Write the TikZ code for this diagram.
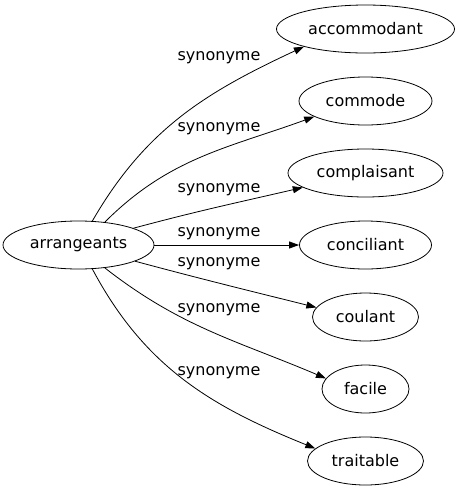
\documentclass[tikz,border=0pt]{standalone}
\usepackage{fontspec}
\setmainfont{DejaVu Sans}
\usetikzlibrary{shapes.geometric, positioning, arrows.meta}

\tikzset{
  word/.style={draw, ellipse, inner sep=0pt, minimum height=48pt,
    font=\fontsize{16}{19}\selectfont},
  syn/.style={font=\fontsize{16}{19}\selectfont}
}

\begin{document}
\begin{tikzpicture}[x=1pt,y=1pt,node distance=72pt,on grid,
  >={Triangle[length=10pt,width=7pt]}, line width=0.8pt]
\useasboundingbox (0,0) rectangle (457,-491);
\node[word,minimum width=151pt] (arr) at (78.5,-245) {arrangeants};
\node[word,minimum width=132pt] (con) [right=287pt of arr] {conciliant};
\node[word,minimum width=155pt] (cpl) [above=of con] {complaisant};
\node[word,minimum width=133pt] (com) [above=of cpl] {commode};
\node[word,minimum width=178pt] (acc) [above=of com] {accommodant};
\node[word,minimum width=106pt] (cou) [below=of con] {coulant};
\node[word,minimum width=87pt] (fac) [below=of cou] {facile};
\node[word,minimum width=116pt] (tra) [below=of fac] {traitable};

\node[syn] (s1) at (219,-58) {synonyme};
\node[syn] (s2) at (219,-129) {synonyme};
\node[syn] (s3) at (219,-190) {synonyme};
\node[syn] (s4) at (219,-234) {synonyme};
\node[syn] (s5) at (219,-264) {synonyme};
\node[syn] (s6) at (219,-310) {synonyme};
\node[syn] (s7) at (219,-373) {synonyme};

\path[->]
(arr.60) edge[out=60,in=205] (acc.196)
(arr.41) edge[out=45,in=200] (com.197)
(arr.17) edge[out=15,in=193] (cpl.193)
(arr) edge (con)
(arr.-16) edge[out=-15,in=166] (cou.169)
(arr.-41) edge[out=-38,in=157] (fac.165)
(arr.-60) edge[out=-62,in=158] (tra.166);
\end{tikzpicture}
\end{document}
